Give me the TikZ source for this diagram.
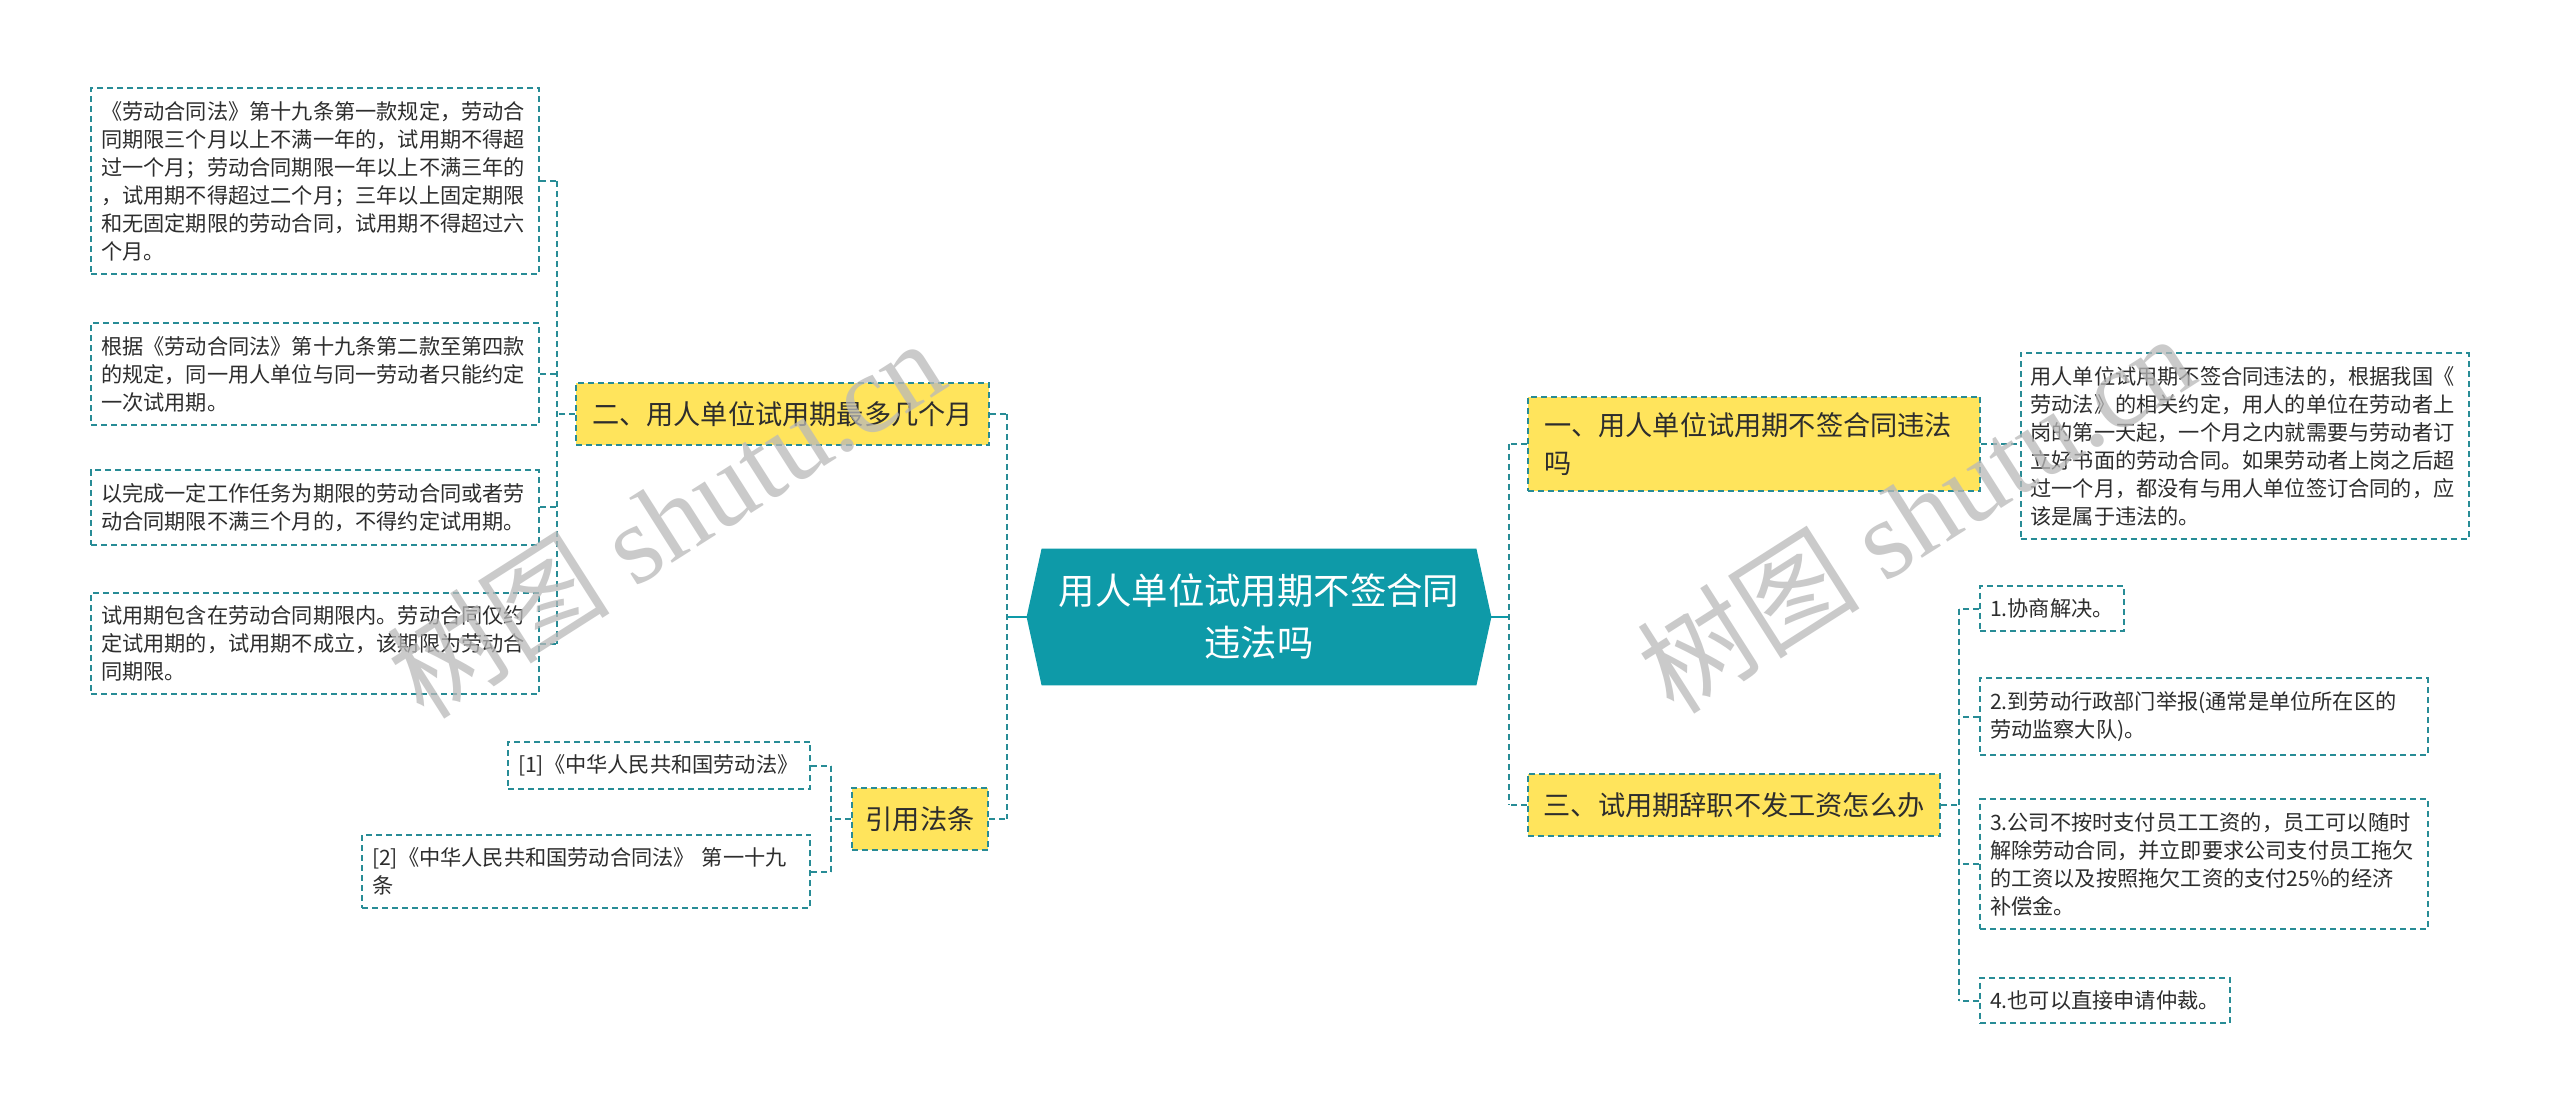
\documentclass[tikz,border=0pt]{standalone}
\usepackage{fontspec}
\setmainfont{Noto Sans CJK SC}
\newfontfamily\wmlatin{Liberation Serif}
\usetikzlibrary{backgrounds}
\definecolor{tealfill}{RGB}{14,154,168}
\definecolor{lineteal}{RGB}{40,140,150}
\definecolor{yel}{RGB}{255,228,92}
\definecolor{txt}{RGB}{45,45,45}
\definecolor{wmgray}{RGB}{185,185,185}
\tikzset{
  dsh/.style={draw=lineteal, line width=1pt, dash pattern=on 3pt off 2pt},
  conn/.style={dsh},
  solidconn/.style={draw=tealfill, line width=1.2pt},
  box/.style={dsh, fill=white, text=txt, align=left, inner xsep=5pt, inner ysep=6.5pt,
    font=\fontsize{10.6pt}{14pt}\selectfont},
  wbox/.style={box, text width=214pt},
  topic/.style={dsh, fill=yel, text=txt, align=left, inner xsep=8pt, inner ysep=8pt,
    minimum height=31pt, font=\fontsize{13.6pt}{18.8pt}\selectfont},
  ctrnode/.style={text=white, align=center, inner sep=0pt, minimum width=232pt,
    minimum height=68pt, font=\fontsize{18.2pt}{26pt}\selectfont},
  wm/.style={text=wmgray, opacity=0.75, rotate=32.5, inner sep=0pt,
    font=\fontsize{56pt}{56pt}\selectfont}
}
\begin{document}
\begin{tikzpicture}[x=0.5pt,y=-0.5pt]
\useasboundingbox (0,0) rectangle (2560,1117);

% centre
\node[ctrnode] (ctr) at (1259,617) {用人单位试用期不签合同\\违法吗};
\begin{scope}[on background layer]
\fill[white] (0,0) rectangle (2560,1117);
\fill[tealfill] (ctr.west) -- ([xshift=7.5pt]ctr.north west) -- ([xshift=-7.5pt]ctr.north east)
  -- (ctr.east) -- ([xshift=-7.5pt]ctr.south east) -- ([xshift=7.5pt]ctr.south west) -- cycle;
\end{scope}

% left topic 二
\node[topic, text width=190.4pt] (p2) at (782.5,414) {二、用人单位试用期最多几个月};
\node[wbox] (b1) at (315,181) {《劳动合同法》第十九条第一款规定，劳动合\\同期限三个月以上不满一年的，试用期不得超\\过一个月；劳动合同期限一年以上不满三年的\\，试用期不得超过二个月；三年以上固定期限\\和无固定期限的劳动合同，试用期不得超过六\\个月。};
\node[wbox] (b2) at (315,374) {根据《劳动合同法》第十九条第二款至第四款\\的规定，同一用人单位与同一劳动者只能约定\\一次试用期。};
\node[wbox] (b3) at (315,507.5) {以完成一定工作任务为期限的劳动合同或者劳\\动合同期限不满三个月的，不得约定试用期。};
\node[wbox] (b4) at (315,643.5) {试用期包含在劳动合同期限内。劳动合同仅约\\定试用期的，试用期不成立，该期限为劳动合\\同期限。};

% left topic 引用法条
\node[topic, inner xsep=7pt] (p4) at (920,819) {引用法条};
\node[box, text width=141pt, anchor=east] (r1) at (811,765.5) {[1]《中华人民共和国劳动法》};
\node[wbox, anchor=east] (r2) at (811,871.5) {[2]《中华人民共和国劳动合同法》 第一十九\\条};

% right topic 一
\node[topic, text width=210pt] (p1) at (1754,444) {一、用人单位试用期不签合同违法\\吗};
\node[wbox] (d1) at (2244.5,446) {用人单位试用期不签合同违法的，根据我国《\\劳动法》的相关约定，用人的单位在劳动者上\\岗的第一天起，一个月之内就需要与劳动者订\\立好书面的劳动合同。如果劳动者上岗之后超\\过一个月，都没有与用人单位签订合同的，应\\该是属于违法的。};

% right topic 三
\node[topic, text width=190.4pt] (p3) at (1734,805) {三、试用期辞职不发工资怎么办};
\node[box, anchor=west] (ca) at (1979,608.5) {1.协商解决。};
\node[wbox, anchor=west] (cb) at (1979,716.5) {2.到劳动行政部门举报(通常是单位所在区的\\劳动监察大队)。};
\node[wbox, anchor=west] (cc) at (1979,864) {3.公司不按时支付员工工资的，员工可以随时\\解除劳动合同，并立即要求公司支付员工拖欠\\的工资以及按照拖欠工资的支付25\%的经济\\补偿金。};
\node[box, anchor=west] (cd) at (1979,1000.5) {4.也可以直接申请仲裁。};

% junctions
\coordinate (jL) at (557,0);
\coordinate (jC) at (1007,0);
\coordinate (jR) at (831,0);
\coordinate (jCR) at (1509,0);
\coordinate (j3) at (1959,0);

% centre to topics
\draw[solidconn] (ctr.west) -- (ctr.west -| jC);
\draw[conn] (jC |- p2.east) -- (jC |- p4.east);
\draw[conn] (p2.east) -- (p2.east -| jC);
\draw[conn] (p4.east) -- (p4.east -| jC);
\draw[solidconn] (ctr.east) -- (ctr.east -| jCR);
\draw[conn] (jCR |- p1.west) -- (jCR |- p3.west);
\draw[conn] (p1.west) -- (p1.west -| jCR);
\draw[conn] (p3.west) -- (p3.west -| jCR);

% 二 children
\draw[conn] (jL |- b1.east) -- (jL |- b4.east);
\draw[conn] (p2.west) -- (p2.west -| jL);
\foreach \c in {b1,b2,b3,b4} \draw[conn] (\c.east) -- (\c.east -| jL);

% 引用 children
\draw[conn] (jR |- r1.east) -- (jR |- r2.east);
\draw[conn] (p4.west) -- (p4.west -| jR);
\foreach \c in {r1,r2} \draw[conn] (\c.east) -- (\c.east -| jR);

% 一 child
\draw[conn] (p1.east) -- (p1.east -| d1.west);

% 三 children
\draw[conn] (j3 |- ca.west) -- (j3 |- cd.west);
\draw[conn] (p3.east) -- (p3.east -| j3);
\foreach \c in {ca,cb,cc,cd} \draw[conn] (\c.west) -- (\c.west -| j3);

% watermarks
\node[wm] (wm1) at (665,518) {树图 {\wmlatin shutu.cn}};
\node[wm] (wm2) at (1915,513) {树图 {\wmlatin shutu.cn}};
\end{tikzpicture}
\end{document}
